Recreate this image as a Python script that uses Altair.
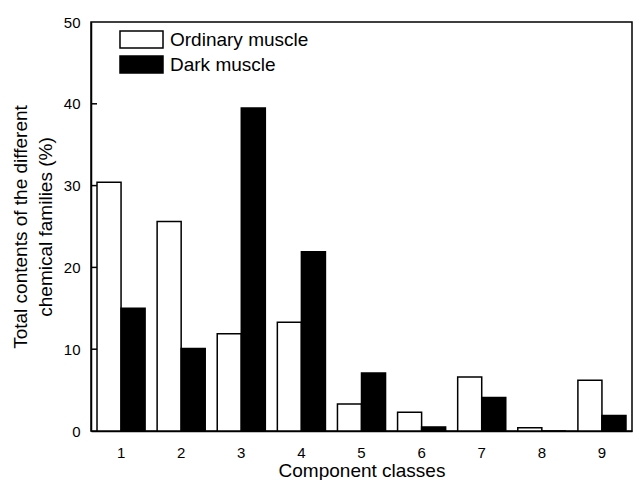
import altair as alt
import pandas as pd

classes = ["1", "2", "3", "4", "5", "6", "7", "8", "9"]
ordinary = [30.4, 25.6, 11.9, 13.3, 3.3, 2.3, 6.6, 0.4, 6.2]
dark = [15.0, 10.1, 39.5, 21.9, 7.1, 0.5, 4.1, 0.0, 1.9]
series_names = ["Ordinary muscle", "Dark muscle"]
series_colors = ["white", "black"]
y_ticks = [0, 10, 20, 30, 40, 50]
inner_ticks = [10, 20, 30, 40]

rows = []
for c, o, d in zip(classes, ordinary, dark):
    rows.append({"cls": c, "series": series_names[0], "value": o})
    rows.append({"cls": c, "series": series_names[1], "value": d})
df = pd.DataFrame(rows)
ticks_df = pd.DataFrame({"value": inner_ticks})

FONT = "Liberation Sans"
yscale = alt.Scale(domain=[0, 50], nice=False, zero=True)
y_title = ["Total contents of the different", "chemical families (%)"]
y_axis = alt.Axis(values=y_ticks, ticks=False, grid=False, labelPadding=11,
                  labelFontSize=15, titleFontSize=19, titleFontWeight="normal",
                  titleAngle=270, titleX=-65, titleY=204.5, titleAlign="center",
                  titleBaseline="alphabetic", titleLineHeight=25)

bars = alt.Chart(df).mark_bar(stroke="black", strokeWidth=1.5).encode(
    x=alt.X(
        "cls:N", sort=classes, title="Component classes",
        scale=alt.Scale(paddingInner=0.2, paddingOuter=0.1),
        axis=alt.Axis(labelAngle=0, ticks=False, grid=False, labelPadding=14,
                      labelFontSize=15, titleFontSize=19, titleFontWeight="normal",
                      titleY=45, titleBaseline="alphabetic"),
    ),
    xOffset=alt.XOffset("series:N", sort=series_names),
    y=alt.Y("value:Q", scale=yscale, title=y_title, axis=y_axis),
    fill=alt.Fill(
        "series:N", sort=series_names,
        scale=alt.Scale(domain=series_names, range=series_colors),
        legend=alt.Legend(
            title=None, orient="none", legendX=41, legendY=8,
            symbolType="M-2.53,-1L2.53,-1L2.53,1L-2.53,1Z", symbolSize=289,
            symbolStrokeColor="black", symbolStrokeWidth=1.5,
            labelFontSize=19, labelFont=FONT, labelOffset=19, rowPadding=2,
            padding=0, labelColor="black",
            labelExpr="datum.label == 'Dark muscle' ? '\u00a0' + datum.label : datum.label",
        ),
    ),
)

tick_rules = alt.Chart(ticks_df).mark_rule(color="black", strokeWidth=1.5).encode(
    y=alt.Y("value:Q", scale=yscale, title=y_title, axis=y_axis),
    x=alt.value(0),
    x2=alt.value(6),
)

chart = alt.layer(bars, tick_rules).properties(
    width=541, height=409,
    background="white",
    autosize=alt.AutoSizeParams(type="none"),
    padding={"left": 83, "top": 14, "right": 1, "bottom": 49},
).configure_view(
    stroke="black", strokeWidth=1.5
).configure_axis(
    domainColor="black", domainWidth=1.5, labelColor="black", titleColor="black",
    labelFont=FONT, titleFont=FONT,
)

chart.save("out.html", embed_options={"renderer": "svg", "actions": False})
